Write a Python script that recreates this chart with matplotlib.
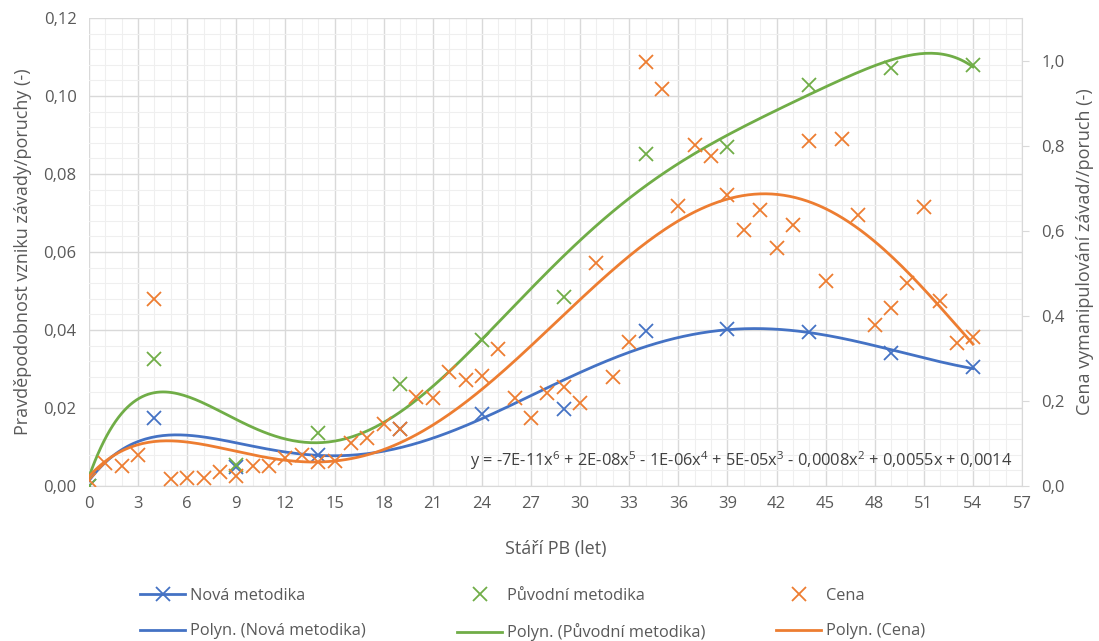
import numpy as np
import matplotlib
matplotlib.use("Agg")
import matplotlib.pyplot as plt
from matplotlib.lines import Line2D
from matplotlib.ticker import FuncFormatter, MultipleLocator

plt.rcParams["font.family"] = ["Open Sans", "DejaVu Sans"]
plt.rcParams["mathtext.fontset"] = "custom"
plt.rcParams["mathtext.rm"] = "Open Sans"
plt.rcParams["mathtext.it"] = "Open Sans"

BLUE = "#4472C4"
GREEN = "#70AD47"
ORANGE = "#ED7D31"
TXT = "#595959"

# probability of failure by age (left axis)
age_m = [0, 4, 9, 14, 19, 24, 29, 34, 39, 44, 49, 54]
nova = [0.0000, 0.0175, 0.0050, 0.0080, 0.0145, 0.0185, 0.0198, 0.0398,
        0.0402, 0.0396, 0.0341, 0.0304]
puvodni = [0.0000, 0.0325, 0.0055, 0.0135, 0.0262, 0.0375, 0.0485, 0.0852,
           0.0870, 0.1029, 0.1072, 0.1080]

# repair cost by age (right axis)
age_c = list(range(0, 55))
cena = [0.014, 0.054, 0.047, 0.072, 0.440, 0.016, 0.018, 0.018, 0.034, 0.024,
        0.046, 0.046, 0.065, 0.072, 0.057, 0.058, 0.100, 0.112, 0.146, 0.133,
        0.210, 0.206, 0.269, 0.248, 0.259, 0.321, 0.207, 0.161, 0.218, 0.232,
        0.194, 0.523, 0.257, 0.339, 0.997, 0.933, 0.658, 0.802, 0.776, 0.683,
        0.601, 0.648, 0.560, 0.614, 0.810, 0.482, 0.816, 0.637, 0.379, 0.418,
        0.477, 0.655, 0.434, 0.335, 0.351]

equation = (r"y = -7E-11x$^{6}$ + 2E-08x$^{5}$ - 1E-06x$^{4}$ + 5E-05x$^{3}$"
            r" - 0,0008x$^{2}$ + 0,0055x + 0,0014")

fig = plt.figure(figsize=(10.99, 6.41), dpi=100)
ax = fig.add_axes([0.081, 0.2418, 0.849, 0.7301])
ax2 = ax.twinx()


def trend(x, y, deg):
    c = np.polyfit(x, y, deg)
    xs = np.linspace(min(x), max(x), 300)
    return xs, np.polyval(c, xs)


mk = dict(marker="x", ls="none", ms=9.5, mew=1.3)
ax.plot(age_m, nova, color=BLUE, zorder=4, **mk)
ax.plot(age_m, puvodni, color=GREEN, zorder=4, **mk)
xs, ys = trend(age_m, nova, 6)
ax.plot(xs, ys, color=BLUE, lw=2, zorder=3)
xs, ys = trend(age_m, puvodni, 6)
ax.plot(xs, ys, color=GREEN, lw=2, zorder=3)

ax2.plot(age_c, cena, color=ORANGE, zorder=4, **mk)
xs, ys = trend(age_c, cena, 5)
ax2.plot(xs, ys, color=ORANGE, lw=2, zorder=3)

# axes, grid
ax.set_xlim(0, 57)
ax.set_ylim(0, 0.12)
ax2.set_ylim(0, 1.1)
ax.xaxis.set_major_locator(MultipleLocator(3))
ax.xaxis.set_minor_locator(MultipleLocator(1))
ax.yaxis.set_major_locator(MultipleLocator(0.02))
ax.yaxis.set_minor_locator(MultipleLocator(0.004))
ax2.yaxis.set_major_locator(MultipleLocator(0.2))
ax.yaxis.set_major_formatter(FuncFormatter(lambda v, p: f"{v:.2f}".replace(".", ",")))
ax2.yaxis.set_major_formatter(FuncFormatter(lambda v, p: f"{v:.1f}".replace(".", ",")))
ax.grid(which="major", color="#d9d9d9", lw=1.0)
ax.grid(which="minor", color="#efefef", lw=0.8)
ax.set_axisbelow(True)

for s in ["top", "left"]:
    ax.spines[s].set_visible(False)
    ax2.spines[s].set_visible(False)
ax.spines["right"].set_visible(False)
ax2.spines["bottom"].set_visible(False)
ax.spines["bottom"].set_color("#d9d9d9")
ax2.spines["right"].set_color("#d9d9d9")

ax.tick_params(axis="both", which="both", length=0, colors=TXT, labelsize=12)
ax.tick_params(axis="x", pad=7)
ax.tick_params(axis="y", pad=9)
ax2.tick_params(axis="y", which="major", length=5, color="#d9d9d9",
                labelcolor=TXT, labelsize=12, pad=9)

ax.set_xlabel("Stáří PB (let)", fontsize=13, color=TXT, labelpad=20)
ax.set_ylabel("Pravděpodobnost vzniku závady/poruchy (-)", fontsize=13,
              color=TXT, labelpad=8)
ax2.set_ylabel("Cena vymanipulování závad//poruch (-)", fontsize=13,
               color=TXT, labelpad=8)

ax.text(23.3, 0.0064, equation, fontsize=11.8, color="#404040",
        va="center", ha="left", zorder=5)

# legend: three evenly spaced columns, two rows each
columns = [
    ([Line2D([], [], color=BLUE, marker="x", ms=9.5, mew=1.3, lw=2),
      Line2D([], [], color=BLUE, lw=2)],
     ["Nová metodika", "Polyn. (Nová metodika)"], 140),
    ([Line2D([], [], color=GREEN, marker="x", ls="none", ms=9.5, mew=1.3),
      Line2D([], [], color=GREEN, lw=2)],
     ["Původní metodika", "Polyn. (Původní metodika)"], 457),
    ([Line2D([], [], color=ORANGE, marker="x", ls="none", ms=9.5, mew=1.3),
      Line2D([], [], color=ORANGE, lw=2)],
     ["Cena", "Polyn. (Cena)"], 776),
]
for hs, ls, x0 in columns:
    fig.legend(hs, ls, loc="upper left", bbox_to_anchor=(x0 / 1099, 1 - 588 / 641),
               frameon=False, fontsize=11.8, labelcolor=TXT, borderpad=0,
               borderaxespad=0, handlelength=2.75, handletextpad=0.3,
               labelspacing=1.18)

fig.savefig("out.png", dpi=100)
